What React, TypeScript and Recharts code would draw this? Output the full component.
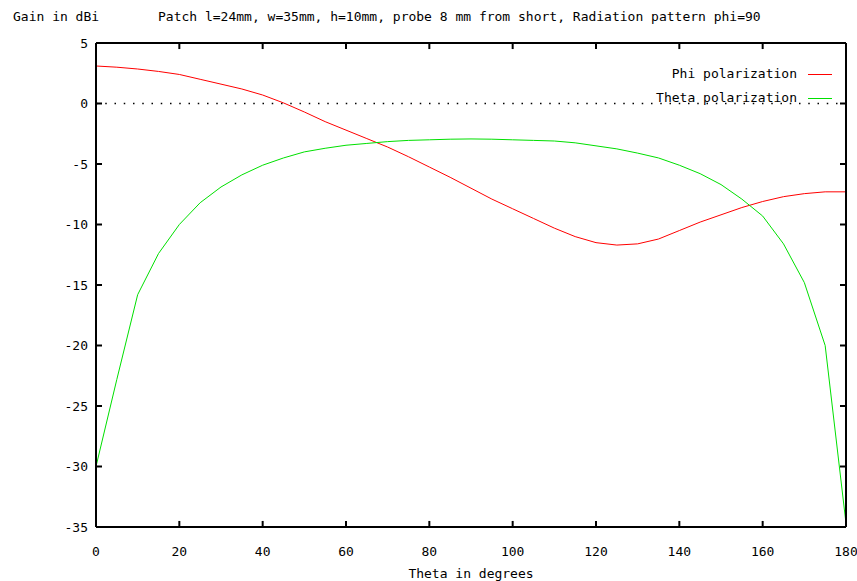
import React from 'react';
import {
  LineChart, Line, XAxis, YAxis, ReferenceLine, Legend
} from 'recharts';

// theta angles in degrees (5 degree steps)
const theta = [
  0, 5, 10, 15, 20, 25, 30, 35, 40, 45, 50, 55, 60, 65, 70, 75, 80, 85, 90,
  95, 100, 105, 110, 115, 120, 125, 130, 135, 140, 145, 150, 155, 160, 165, 170, 175, 180,
];

// gain in dBi
const phiPol = [
  3.1, 3.0, 2.85, 2.65, 2.4, 2.0, 1.6, 1.2, 0.7, 0.05, -0.7, -1.5, -2.2, -2.9, -3.6, -4.4, -5.25, -6.1, -7.0,
  -7.9, -8.7, -9.5, -10.3, -11.0, -11.5, -11.7, -11.6, -11.2, -10.5, -9.8, -9.2, -8.6, -8.1, -7.7, -7.45, -7.3, -7.3,
];
const thetaPol = [
  -30, -22.8, -15.8, -12.4, -10.0, -8.2, -6.9, -5.9, -5.1, -4.5, -4.0, -3.7, -3.45, -3.3, -3.15, -3.05, -3.0, -2.95, -2.93,
  -2.95, -3.0, -3.05, -3.1, -3.25, -3.5, -3.75, -4.1, -4.5, -5.1, -5.8, -6.7, -7.9, -9.3, -11.6, -14.8, -20.0, -34.7,
];

const xTicks = [0, 20, 40, 60, 80, 100, 120, 140, 160, 180];
const yTicks = [5, 0, -5, -10, -15, -20, -25, -30, -35];

const seriesNames = ['Phi polarization', 'Theta polarization'];
const seriesColors = ['#ff0000', '#00e000'];

const FONT = '"DejaVu Sans Mono", monospace';

const X_MIN = 0, X_MAX = 180, Y_MIN = -35, Y_MAX = 5;
// inward tick length (~6px) expressed in axis units
const X_TICK = 1.44;
const Y_TICK = 0.5;

const data = theta.map((t, i) => ({ theta: t, phi: phiPol[i], th: thetaPol[i] }));

const tickStyle = { fontFamily: FONT, fontSize: 13, fill: '#000', stroke: 'none' };

function LegendBox() {
  return (
    <div style={{ fontFamily: FONT, fontSize: 13, color: '#000', lineHeight: '24px' }}>
      {seriesNames.map((n, i) => (
        <div key={n} style={{ display: 'flex', justifyContent: 'flex-end', alignItems: 'center' }}>
          <span>{n}</span>
          <span style={{ display: 'inline-block', width: 24, height: 1, background: seriesColors[i], marginLeft: 11 }} />
        </div>
      ))}
    </div>
  );
}

// frame axes: mirrored so they take no space, only the border line is drawn
const frameProps = {
  stroke: '#000',
  strokeWidth: 2,
  tick: false,
  tickLine: false,
  axisLine: { stroke: '#000', strokeWidth: 2 },
  mirror: true,
  type: 'number' as const,
};

export default function App() {
  return (
    <div style={{ position: 'absolute', left: 0, top: 0, width: 857, height: 581, background: '#fff' }}>
      <div style={{ position: 'absolute', left: 13, top: 9, fontFamily: FONT, fontSize: 13, whiteSpace: 'pre' }}>
        Gain in dBi
      </div>
      <div style={{ position: 'absolute', left: 158, top: 9, fontFamily: FONT, fontSize: 13, whiteSpace: 'pre' }}>
        Patch l=24mm, w=35mm, h=10mm, probe 8 mm from short, Radiation pattern phi=90
      </div>
      <LineChart
        width={857}
        height={581}
        data={data}
        margin={{ top: 43, right: 11, bottom: 24, left: 0 }}
      >
        {/* labelled axes */}
        <XAxis
          dataKey="theta"
          type="number"
          domain={[X_MIN, X_MAX]}
          ticks={xTicks}
          interval={0}
          height={30}
          axisLine={false}
          tickLine={false}
          tickMargin={14}
          tick={tickStyle}
          label={{ value: 'Theta in degrees', position: 'bottom', offset: 12, style: { fontFamily: FONT, fontSize: 13, fill: '#000' } }}
        />
        <YAxis
          type="number"
          domain={[Y_MIN, Y_MAX]}
          ticks={yTicks}
          interval={0}
          width={96}
          axisLine={false}
          tickLine={false}
          tickMargin={2}
          tick={tickStyle}
        />
        {/* border of the plot */}
        <XAxis xAxisId="b" orientation="bottom" dataKey="theta" domain={[X_MIN, X_MAX]} height={8} {...frameProps} />
        <XAxis xAxisId="t" orientation="top" dataKey="theta" domain={[X_MIN, X_MAX]} height={8} {...frameProps} />
        <YAxis yAxisId="l" orientation="left" domain={[Y_MIN, Y_MAX]} width={8} {...frameProps} />
        <YAxis yAxisId="r" orientation="right" domain={[Y_MIN, Y_MAX]} width={8} {...frameProps} />

        {/* gnuplot style inward tick marks on all four sides */}
        {xTicks.map((t) => (
          <ReferenceLine key={`xb${t}`} segment={[{ x: t, y: Y_MIN }, { x: t, y: Y_MIN + Y_TICK }]} stroke="#000" strokeWidth={2} />
        ))}
        {xTicks.map((t) => (
          <ReferenceLine key={`xt${t}`} segment={[{ x: t, y: Y_MAX }, { x: t, y: Y_MAX - Y_TICK }]} stroke="#000" strokeWidth={2} />
        ))}
        {yTicks.map((v) => (
          <ReferenceLine key={`yl${v}`} segment={[{ x: X_MIN, y: v }, { x: X_MIN + X_TICK, y: v }]} stroke="#000" strokeWidth={2} />
        ))}
        {yTicks.map((v) => (
          <ReferenceLine key={`yr${v}`} segment={[{ x: X_MAX, y: v }, { x: X_MAX - X_TICK, y: v }]} stroke="#000" strokeWidth={2} />
        ))}

        <ReferenceLine y={0} stroke="#000" strokeWidth={1.5} strokeDasharray="1.5 7.75" />
        <Legend
          layout="vertical"
          verticalAlign="middle"
          align="center"
          content={<LegendBox />}
          wrapperStyle={{ position: 'absolute', top: 62, left: 642, width: 190, height: 48 }}
        />
        <Line
          type="linear"
          dataKey="phi"
          name={seriesNames[0]}
          stroke={seriesColors[0]}
          strokeWidth={1}
          dot={false}
          isAnimationActive={false}
        />
        <Line
          type="linear"
          dataKey="th"
          name={seriesNames[1]}
          stroke={seriesColors[1]}
          strokeWidth={1}
          dot={false}
          isAnimationActive={false}
        />
      </LineChart>
    </div>
  );
}
